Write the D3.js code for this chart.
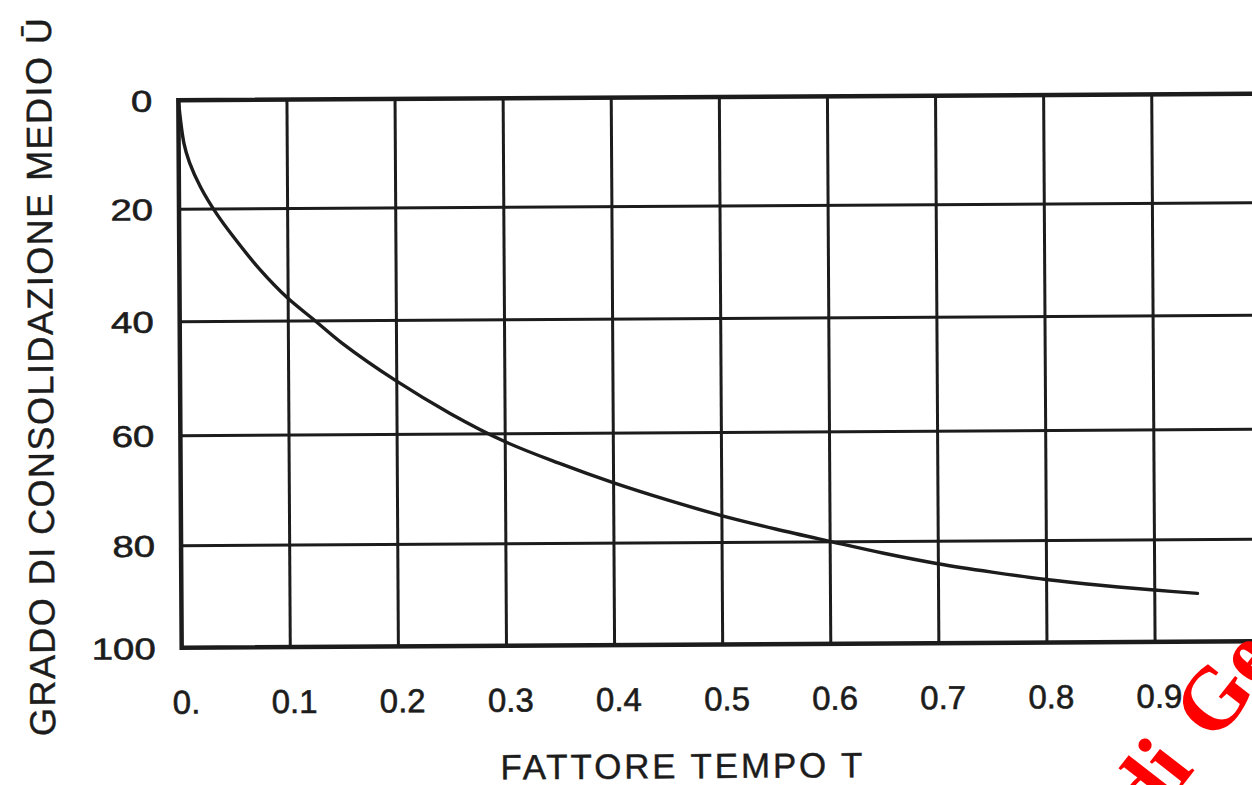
<!DOCTYPE html>
<html>
<head>
<meta charset="utf-8">
<script src="https://cdn.jsdelivr.net/npm/d3@7"></script>
<style>
  html, body { margin: 0; padding: 0; background: #fff; }
  svg { display: block; }
</style>
</head>
<body>
<svg id="chart" width="1252" height="785"></svg>
<script>
// Average degree of consolidation Ū (%) against time factor T
const timeFactor = [0, 0.005, 0.01, 0.02, 0.035, 0.05, 0.075, 0.1, 0.125, 0.15, 0.2, 0.25, 0.3,
                    0.35, 0.4, 0.45, 0.5, 0.55, 0.6, 0.65, 0.7, 0.75, 0.8, 0.85, 0.9, 0.94];
const consolidation = [0, 8, 11.5, 16, 21, 25, 31, 36, 40, 44, 50.7, 56.5, 61.5,
                       65.5, 69.1, 72.3, 75.2, 77.7, 80, 82.4, 84.5, 86.2, 87.7, 88.9, 89.9, 90.6];

const xTicks = [0, 0.1, 0.2, 0.3, 0.4, 0.5, 0.6, 0.7, 0.8, 0.9];
const xTickLabels = ["0.", "0.1", "0.2", "0.3", "0.4", "0.5", "0.6", "0.7", "0.8", "0.9"];
const yTicks = [0, 20, 40, 60, 80, 100];
const yTickLabels = ["0", "20", "40", "60", "80", "100"];

const xTitle = "FATTORE TEMPO  T";
const yTitle = "GRADO DI CONSOLIDAZIONE MEDIO  Ū";
const stampText = "di Ge";

const ink = "#1c1c1c";
const svg = d3.select("#chart");

const x = d3.scaleLinear().domain([0, 1]).range([180, 1261]);
const y = d3.scaleLinear().domain(yTicks).range([97, 205.5, 318, 432, 542, 644.5]);

// the printed sheet sits a little askew
const g = svg.append("g").attr("transform", "rotate(-0.35, 715, 370)");

// vertical grid lines
g.append("g")
  .attr("transform", `translate(0,${y(100)})`)
  .call(d3.axisBottom(x).tickValues(xTicks.slice(1)).tickSize(-(y(100) - y(0))).tickFormat(""))
  .call(a => a.select(".domain").remove())
  .call(a => a.selectAll("line").attr("stroke", ink).attr("stroke-width", 3));

// horizontal grid lines
g.append("g")
  .attr("transform", `translate(${x(0)},0)`)
  .call(d3.axisRight(y).tickValues(yTicks.slice(1, -1)).tickSize(x(1) - x(0)).tickFormat(""))
  .call(a => a.select(".domain").remove())
  .call(a => a.selectAll("line").attr("stroke", ink).attr("stroke-width", 3));

// frame
g.append("rect")
  .attr("x", x(0)).attr("y", y(0))
  .attr("width", x(1) - x(0)).attr("height", y(100) - y(0))
  .attr("fill", "none").attr("stroke", ink).attr("stroke-width", 4.5);

// x tick labels
g.append("g")
  .attr("transform", `translate(0,${y(100)})`)
  .call(d3.axisBottom(x).tickValues(xTicks).tickSize(0).tickFormat((d, i) => xTickLabels[i]))
  .call(a => a.select(".domain").remove())
  .call(a => a.selectAll("text")
    .attr("x", 4).attr("y", 54).attr("dy", "0.36em")
    .attr("fill", ink).attr("stroke", ink).attr("stroke-width", 0.6)
    .attr("font-family", "'Liberation Sans', Arial, sans-serif")
    .attr("font-size", 33));

// y tick labels
g.append("g")
  .attr("transform", `translate(${x(0)},0)`)
  .call(d3.axisLeft(y).tickValues(yTicks).tickSize(0).tickFormat((d, i) => yTickLabels[i]))
  .call(a => a.select(".domain").remove())
  .call(a => a.selectAll("text")
    .attr("x", 0).attr("dy", "0.36em")
    .attr("transform", "translate(-26,0) scale(1.28,1)")
    .attr("text-anchor", "end")
    .attr("fill", ink).attr("stroke", ink).attr("stroke-width", 0.6)
    .attr("font-family", "'Liberation Sans', Arial, sans-serif")
    .attr("font-size", 30));

// consolidation curve
const line = d3.line()
  .x((d, i) => x(timeFactor[i]))
  .y((d, i) => y(consolidation[i]))
  .curve(d3.curveCatmullRom.alpha(0.5));

g.append("path")
  .datum(consolidation)
  .attr("d", line)
  .attr("fill", "none")
  .attr("stroke", ink)
  .attr("stroke-width", 3.4)
  .attr("stroke-linecap", "round");

// axis titles
g.append("text")
  .attr("x", 679).attr("y", 778)
  .attr("text-anchor", "middle")
  .attr("textLength", 362).attr("lengthAdjust", "spacing")
  .attr("fill", ink).attr("stroke", ink).attr("stroke-width", 0.4)
  .attr("font-family", "'Liberation Sans', Arial, sans-serif")
  .attr("font-size", 35)
  .text(xTitle);

g.append("text")
  .attr("transform", "translate(53,373) rotate(-90)")
  .attr("text-anchor", "middle")
  .attr("textLength", 718).attr("lengthAdjust", "spacing")
  .attr("fill", ink).attr("stroke", ink).attr("stroke-width", 0.4)
  .attr("font-family", "'Liberation Sans', Arial, sans-serif")
  .attr("font-size", 36)
  .text(yTitle);

// red stamp in the lower right corner
svg.append("text")
  .attr("transform", "translate(1150,827) rotate(-52)")
  .attr("fill", "#ff0000")
  .attr("font-family", "'Liberation Serif', 'Times New Roman', serif")
  .attr("font-weight", "bold")
  .attr("font-size", 88)
  .attr("word-spacing", 10)
  .style("white-space", "pre")
  .text(stampText);
</script>
</body>
</html>
